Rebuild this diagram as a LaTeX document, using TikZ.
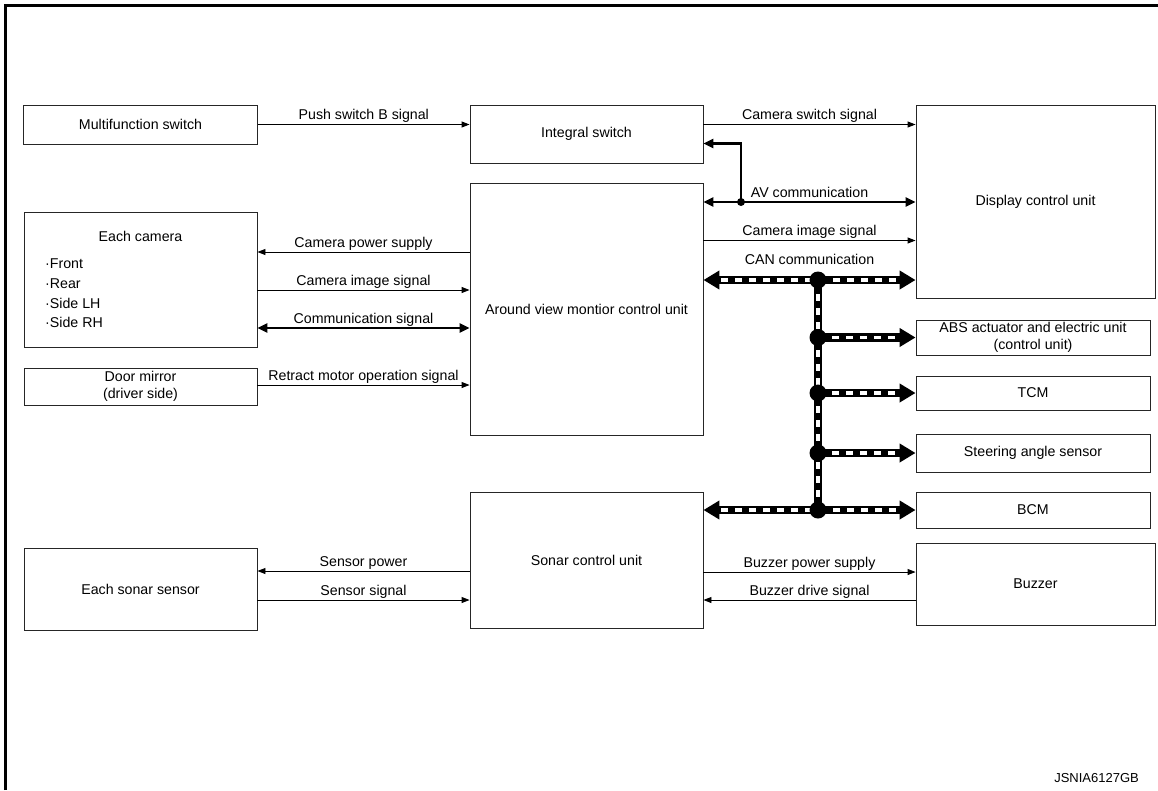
\documentclass[tikz,border=0pt]{standalone}
\usepackage{fontspec}
\setmainfont{Liberation Sans}
\usetikzlibrary{arrows.meta,calc}
\newcommand\dfont{\fontsize{14.2}{17.5}\selectfont}
\begin{document}
\begin{tikzpicture}[x=1pt,y=-1pt,
  box/.style={draw=black!85, line width=0.9pt, inner sep=0pt, align=center, font=\dfont},
  txt/.style={inner sep=0pt, font=\dfont},
  lbl/.style={anchor=base, yshift=5pt, inner sep=0pt, font=\dfont},
  sig/.style={line width=0.9pt, -{Triangle[length=8pt,width=6pt]}},
  bisig/.style={line width=2.6pt, {Triangle[length=10pt,width=9pt]}-{Triangle[length=10pt,width=9pt]}},
  sigthick/.style={line width=2.6pt, -{Triangle[length=10pt,width=9pt]}},
  busb/.style={line width=8.5pt, black},
  busw/.style={line width=3.5pt, white, dash pattern=on 7pt off 7pt},
  bustip/.style={-{Triangle[length=16pt,width=18pt]}},
  bustips/.style={{Triangle[length=16pt,width=18pt]}-{Triangle[length=16pt,width=18pt]}},
  dot/.style={circle, fill=black, inner sep=0pt, minimum size=#1},
]
\useasboundingbox (0,0) rectangle (1158,790);
% frame
\coordinate (f1) at (5.5,790);
\coordinate (f2) at (5.5,5.5);
\coordinate (f3) at (1158,5.5);
\draw[line width=3pt] (f1) -- (f2) -- (f3);

% boxes
\node[box, minimum width=234pt, minimum height=39pt] (multi) at (140.5,124.5) {Multifunction switch};
\node[box, minimum width=233pt, minimum height=58pt] (integral) at (586.5,134) {Integral switch};
\node[box, minimum width=239pt, minimum height=193pt] (display) at (1035.5,201.5) {Display control unit};
\node[box, minimum width=233pt, minimum height=135pt] (cam) at (140.5,279.5) {};
\node[box, minimum width=233pt, minimum height=252pt] (avm) at (586.5,309) {Around view montior control unit};
\node[box, minimum width=233pt, minimum height=37pt] (mirror) at (140.5,386.5) {Door mirror\\(driver side)};
\node[box, minimum width=234pt, minimum height=35pt] (abs) at (1033,337.5) {ABS actuator and electric unit\\(control unit)};
\node[box, minimum width=234pt, minimum height=34pt] (tcm) at (1033,393) {TCM};
\node[box, minimum width=234pt, minimum height=38pt] (steer) at (1033,453) {Steering angle sensor};
\node[box, minimum width=234pt, minimum height=36pt] (bcm) at (1033,510) {BCM};
\node[box, minimum width=233pt, minimum height=136pt] (sonar) at (586.5,560) {Sonar control unit};
\node[box, minimum width=233pt, minimum height=82pt] (sensor) at (140.5,589) {Each sonar sensor};
\node[box, minimum width=239pt, minimum height=82pt] (buzzer) at (1035.5,584) {Buzzer};

% camera box text
\node[txt] (camt) at (140.5,236) {Each camera};
\node[txt, anchor=base west] (c1) at (45,268.5) {·Front};
\node[txt, anchor=base west] (c2) at (45,288.5) {·Rear};
\node[txt, anchor=base west] (c3) at (45,308) {·Side LH};
\node[txt, anchor=base west] (c4) at (45,327) {·Side RH};

% left signals
\draw[sig] (multi.east) -- node[lbl] {Push switch B signal} (integral.west |- multi.east);
\draw[sig] (avm.west |- 0,252) -- node[lbl] {Camera power supply} (cam.east |- 0,252);
\draw[sig] (cam.east |- 0,290) -- node[lbl] {Camera image signal} (avm.west |- 0,290);
\draw[bisig] (cam.east |- 0,328) -- node[lbl] {Communication signal} (avm.west |- 0,328);
\draw[sig] (mirror.east |- 0,385) -- node[lbl] {Retract motor operation signal} (avm.west |- 0,385);
\draw[sig] (sonar.west |- 0,571) -- node[lbl] {Sensor power} (sensor.east |- 0,571);
\draw[sig] (sensor.east |- 0,600) -- node[lbl] {Sensor signal} (sonar.west |- 0,600);

% right signals
\draw[sig] (integral.east |- 0,124.5) -- node[lbl] {Camera switch signal} (display.west |- 0,124.5);
\coordinate (av) at (741,202);
\draw[bisig] (avm.east |- av) -- node[lbl] {AV communication} (display.west |- av);
\draw[sigthick] (av) -- (741,143.5) -- (integral.east |- 0,143.5);
\node[dot=8pt] (avdot) at (av) {};
\draw[sig] (avm.east |- 0,240.5) -- node[lbl] {Camera image signal} (display.west |- 0,240.5);
\draw[sig] (sonar.east |- 0,572) -- node[lbl] {Buzzer power supply} (buzzer.west |- 0,572);
\draw[sig] (buzzer.west |- 0,600) -- node[lbl] {Buzzer drive signal} (sonar.east |- 0,600);

% CAN bus
\coordinate (j0) at (818,280);
\coordinate (j1) at (j0 |- abs.west);
\coordinate (j2) at (j0 |- tcm.west);
\coordinate (j3) at (j0 |- steer.west);
\coordinate (j4) at (j0 |- bcm.west);
\draw[busb, bustips] (avm.east |- j0) -- (display.west |- j0);
\draw[busb, bustips] (sonar.east |- j4) -- (bcm.west);
\draw[busb] (j0) -- (j4);
\draw[busb, bustip] (j1) -- (abs.west);
\draw[busb, bustip] (j2) -- (tcm.west);
\draw[busb, bustip] (j3) -- (steer.west);
\draw[busw, shorten <=18pt, shorten >=18pt] (avm.east |- j0) -- (display.west |- j0);
\draw[busw, shorten <=18pt, shorten >=18pt] (sonar.east |- j4) -- (bcm.west);
\draw[busw] (j0) -- (j4);
\draw[busw, shorten >=18pt] (j1) -- (abs.west);
\draw[busw, shorten >=18pt] (j2) -- (tcm.west);
\draw[busw, shorten >=18pt] (j3) -- (steer.west);
\foreach \j in {j0,j1,j2,j3,j4} \node[dot=17pt] at (\j) {};
\node[lbl] (canl) at ($(avm.east |- j0)!0.5!(display.west |- j0) + (0,-11)$) {CAN communication};

\node[inner sep=0pt, font=\fontsize{13}{15}\selectfont, anchor=base east] (code) at (1139,782) {JSNIA6127GB};
\end{tikzpicture}
\end{document}
